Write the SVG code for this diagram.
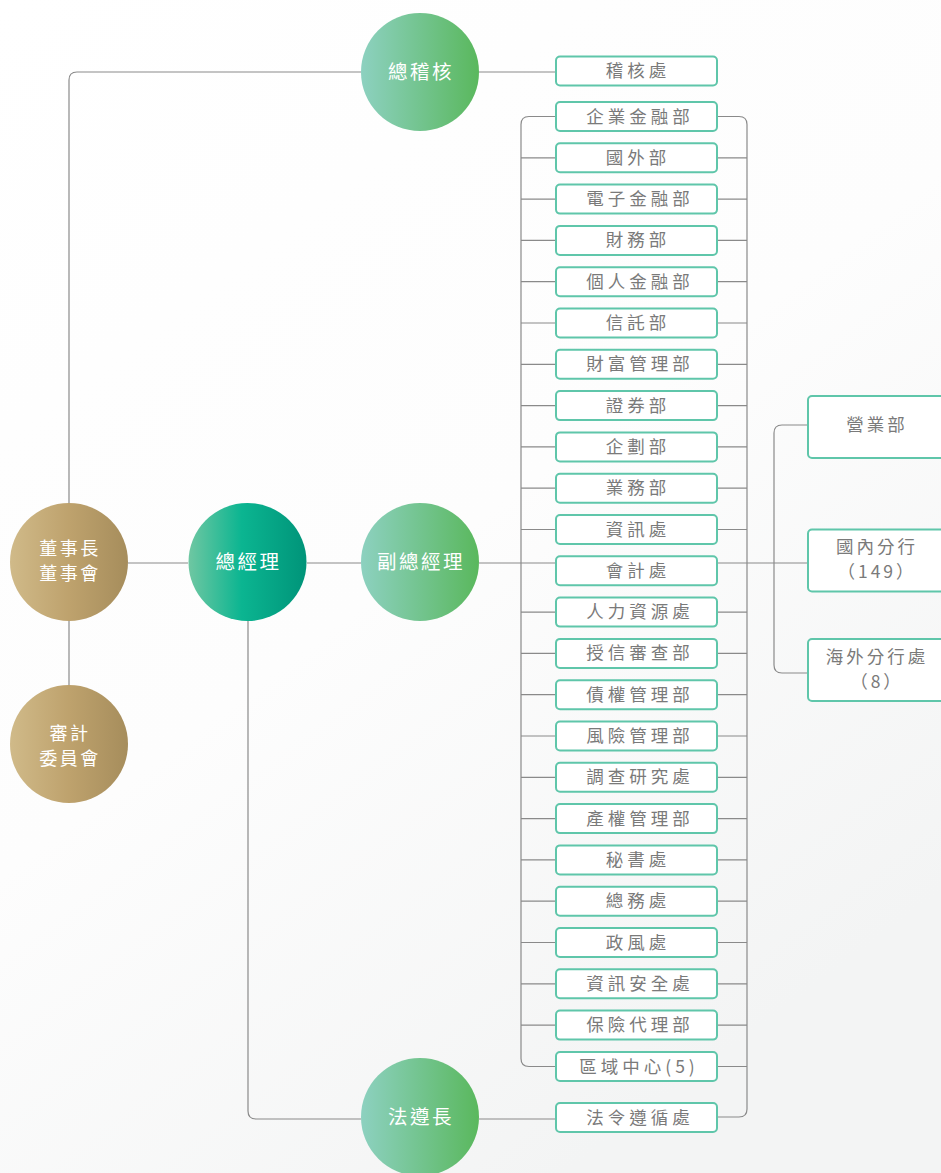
<svg xmlns="http://www.w3.org/2000/svg" width="941" height="1173" viewBox="0 0 941 1173">
  <defs>
    <linearGradient id="gGreen" x1="0" y1="0" x2="1" y2="0">
      <stop offset="0" stop-color="#8dd1c0"/>
      <stop offset="0.5" stop-color="#73c48f"/>
      <stop offset="1" stop-color="#5ab85d"/>
    </linearGradient>
    <linearGradient id="gTeal" x1="0" y1="0" x2="1" y2="0">
      <stop offset="0" stop-color="#6fc7a2"/>
      <stop offset="0.45" stop-color="#0bb591"/>
      <stop offset="1" stop-color="#009479"/>
    </linearGradient>
    <linearGradient id="gGold" x1="0" y1="0" x2="1" y2="0">
      <stop offset="0" stop-color="#d0ba89"/>
      <stop offset="0.5" stop-color="#bea26d"/>
      <stop offset="1" stop-color="#a68d5c"/>
    </linearGradient>
    <linearGradient id="gBg" x1="0" y1="0" x2="0.6" y2="1">
      <stop offset="0" stop-color="#ffffff"/>
      <stop offset="0.55" stop-color="#fdfdfd"/>
      <stop offset="1" stop-color="#f3f4f4"/>
    </linearGradient>
    <style>
      .ln{fill:none;stroke:#8a8a8a;stroke-width:1.2}
      .box{fill:#ffffff;stroke:#5fc6aa;stroke-width:2}
      .bt{font-family:"Noto Sans CJK TC","Noto Sans CJK SC",sans-serif;font-size:17.5px;fill:#7a7a7a;letter-spacing:4px;text-anchor:middle}
      .rt{font-family:"Noto Sans CJK TC","Noto Sans CJK SC",sans-serif;font-size:17.5px;fill:#7a7a7a;letter-spacing:3px;text-anchor:middle}
      .ct{font-family:"Noto Sans CJK TC","Noto Sans CJK SC",sans-serif;font-size:19.5px;fill:#ffffff;letter-spacing:2.5px;text-anchor:middle}
      .c2{font-family:"Noto Sans CJK TC","Noto Sans CJK SC",sans-serif;font-size:18px;fill:#ffffff;letter-spacing:2.5px;text-anchor:middle}
    </style>
  </defs>
  <rect x="0" y="0" width="941" height="1173" fill="url(#gBg)"/>

  <g id="connectors">
    <path class="ln" d="M69,503 V80 Q69,72 77,72 H361"/>
    <path class="ln" d="M479,72 H556"/>
    <path class="ln" d="M69,621 V685"/>
    <path class="ln" d="M128,563 H188"/>
    <path class="ln" d="M307,563 H361"/>
    <path class="ln" d="M479,563 H808"/>
    <path class="ln" d="M248,621 V1111 Q248,1119 256,1119 H361"/>
    <path class="ln" d="M479,1119 H556"/>
    <path class="ln" d="M556,116.5 H529 Q521,116.5 521,124.5 V1058.5 Q521,1066.5 529,1066.5 H556"/>
    <path class="ln" d="M717,116.5 H739 Q747,116.5 747,124.5 V1109 Q747,1117 739,1117 H717"/>
    <path class="ln" d="M521,157.8 H556 M717,157.8 H747
      M521,199.1 H556 M717,199.1 H747
      M521,240.4 H556 M717,240.4 H747
      M521,281.7 H556 M717,281.7 H747
      M521,323 H556 M717,323 H747
      M521,364.3 H556 M717,364.3 H747
      M521,405.6 H556 M717,405.6 H747
      M521,446.9 H556 M717,446.9 H747
      M521,488.2 H556 M717,488.2 H747
      M521,529.5 H556 M717,529.5 H747
      M521,612.1 H556 M717,612.1 H747
      M521,653.4 H556 M717,653.4 H747
      M521,694.7 H556 M717,694.7 H747
      M521,736 H556 M717,736 H747
      M521,777.3 H556 M717,777.3 H747
      M521,818.6 H556 M717,818.6 H747
      M521,859.9 H556 M717,859.9 H747
      M521,901.2 H556 M717,901.2 H747
      M521,942.5 H556 M717,942.5 H747
      M521,983.8 H556 M717,983.8 H747
      M521,1025.1 H556 M717,1025.1 H747
      M717,1066.5 H747"/>
    <path class="ln" d="M808,425 H782 Q774,425 774,433 V665 Q774,673 782,673 H808"/>
  </g>

  <g id="n-chairman">
    <circle cx="69" cy="562" r="59" fill="url(#gGold)"/>
    <text class="c2" x="70" y="555">董事長</text>
    <text class="c2" x="70" y="580">董事會</text>
  </g>
  <g id="n-audit-committee">
    <circle cx="69" cy="744" r="59" fill="url(#gGold)"/>
    <text class="c2" x="70" y="740">審計</text>
    <text class="c2" x="70" y="765">委員會</text>
  </g>
  <g id="n-chief-auditor">
    <circle cx="420" cy="72" r="59" fill="url(#gGreen)"/>
    <text class="ct" x="421" y="79">總稽核</text>
  </g>
  <g id="n-president">
    <circle cx="247.5" cy="562" r="59" fill="url(#gTeal)"/>
    <text class="ct" x="248.5" y="569">總經理</text>
  </g>
  <g id="n-evp">
    <circle cx="420" cy="562" r="59" fill="url(#gGreen)"/>
    <text class="ct" x="421" y="569">副總經理</text>
  </g>
  <g id="n-compliance-officer">
    <circle cx="420" cy="1117" r="59" fill="url(#gGreen)"/>
    <text class="ct" x="421" y="1124">法遵長</text>
  </g>

  <g id="n-audit-office"><rect class="box" x="556" y="56.5" width="161" height="29" rx="4"/><text class="bt" x="638" y="77">稽核處</text></g>
  <g id="n-b01"><rect class="box" x="556" y="102" width="161" height="29" rx="4"/><text class="bt" x="640" y="122.5">企業金融部</text></g>
  <g id="n-b02"><rect class="box" x="556" y="143.3" width="161" height="29" rx="4"/><text class="bt" x="638" y="163.8">國外部</text></g>
  <g id="n-b03"><rect class="box" x="556" y="184.6" width="161" height="29" rx="4"/><text class="bt" x="640" y="205.1">電子金融部</text></g>
  <g id="n-b04"><rect class="box" x="556" y="225.9" width="161" height="29" rx="4"/><text class="bt" x="638" y="246.4">財務部</text></g>
  <g id="n-b05"><rect class="box" x="556" y="267.2" width="161" height="29" rx="4"/><text class="bt" x="640" y="287.7">個人金融部</text></g>
  <g id="n-b06"><rect class="box" x="556" y="308.5" width="161" height="29" rx="4"/><text class="bt" x="638" y="329">信託部</text></g>
  <g id="n-b07"><rect class="box" x="556" y="349.8" width="161" height="29" rx="4"/><text class="bt" x="640" y="370.3">財富管理部</text></g>
  <g id="n-b08"><rect class="box" x="556" y="391.1" width="161" height="29" rx="4"/><text class="bt" x="638" y="411.6">證券部</text></g>
  <g id="n-b09"><rect class="box" x="556" y="432.4" width="161" height="29" rx="4"/><text class="bt" x="638" y="452.9">企劃部</text></g>
  <g id="n-b10"><rect class="box" x="556" y="473.7" width="161" height="29" rx="4"/><text class="bt" x="638" y="494.2">業務部</text></g>
  <g id="n-b11"><rect class="box" x="556" y="515" width="161" height="29" rx="4"/><text class="bt" x="638" y="535.5">資訊處</text></g>
  <g id="n-b12"><rect class="box" x="556" y="556.3" width="161" height="29" rx="4"/><text class="bt" x="638" y="576.8">會計處</text></g>
  <g id="n-b13"><rect class="box" x="556" y="597.6" width="161" height="29" rx="4"/><text class="bt" x="640" y="618.1">人力資源處</text></g>
  <g id="n-b14"><rect class="box" x="556" y="638.9" width="161" height="29" rx="4"/><text class="bt" x="640" y="659.4">授信審查部</text></g>
  <g id="n-b15"><rect class="box" x="556" y="680.2" width="161" height="29" rx="4"/><text class="bt" x="640" y="700.7">債權管理部</text></g>
  <g id="n-b16"><rect class="box" x="556" y="721.5" width="161" height="29" rx="4"/><text class="bt" x="640" y="742">風險管理部</text></g>
  <g id="n-b17"><rect class="box" x="556" y="762.8" width="161" height="29" rx="4"/><text class="bt" x="640" y="783.3">調查研究處</text></g>
  <g id="n-b18"><rect class="box" x="556" y="804.1" width="161" height="29" rx="4"/><text class="bt" x="640" y="824.6">產權管理部</text></g>
  <g id="n-b19"><rect class="box" x="556" y="845.4" width="161" height="29" rx="4"/><text class="bt" x="638" y="865.9">秘書處</text></g>
  <g id="n-b20"><rect class="box" x="556" y="886.7" width="161" height="29" rx="4"/><text class="bt" x="638" y="907.2">總務處</text></g>
  <g id="n-b21"><rect class="box" x="556" y="928" width="161" height="29" rx="4"/><text class="bt" x="638" y="948.5">政風處</text></g>
  <g id="n-b22"><rect class="box" x="556" y="969.3" width="161" height="29" rx="4"/><text class="bt" x="640" y="989.8">資訊安全處</text></g>
  <g id="n-b23"><rect class="box" x="556" y="1010.6" width="161" height="29" rx="4"/><text class="bt" x="640" y="1031.1">保險代理部</text></g>
  <g id="n-b24"><rect class="box" x="556" y="1052" width="161" height="29" rx="4"/><text class="bt" x="639" y="1072.5">區域中心(5)</text></g>
  <g id="n-compliance-office"><rect class="box" x="556" y="1103" width="161" height="29" rx="4"/><text class="bt" x="640" y="1123.5">法令遵循處</text></g>

  <g id="n-business-dept"><rect class="box" x="808" y="396" width="140" height="62" rx="4"/><text class="rt" x="877" y="431">營業部</text></g>
  <g id="n-domestic-branches"><rect class="box" x="808" y="529.5" width="140" height="62" rx="4"/><text class="rt" x="877" y="553">國內分行</text><text class="rt" x="877" y="578">（149）</text></g>
  <g id="n-overseas-branches"><rect class="box" x="808" y="639" width="140" height="62" rx="4"/><text class="rt" x="877" y="663">海外分行處</text><text class="rt" x="877" y="688">（8）</text></g>
</svg>
